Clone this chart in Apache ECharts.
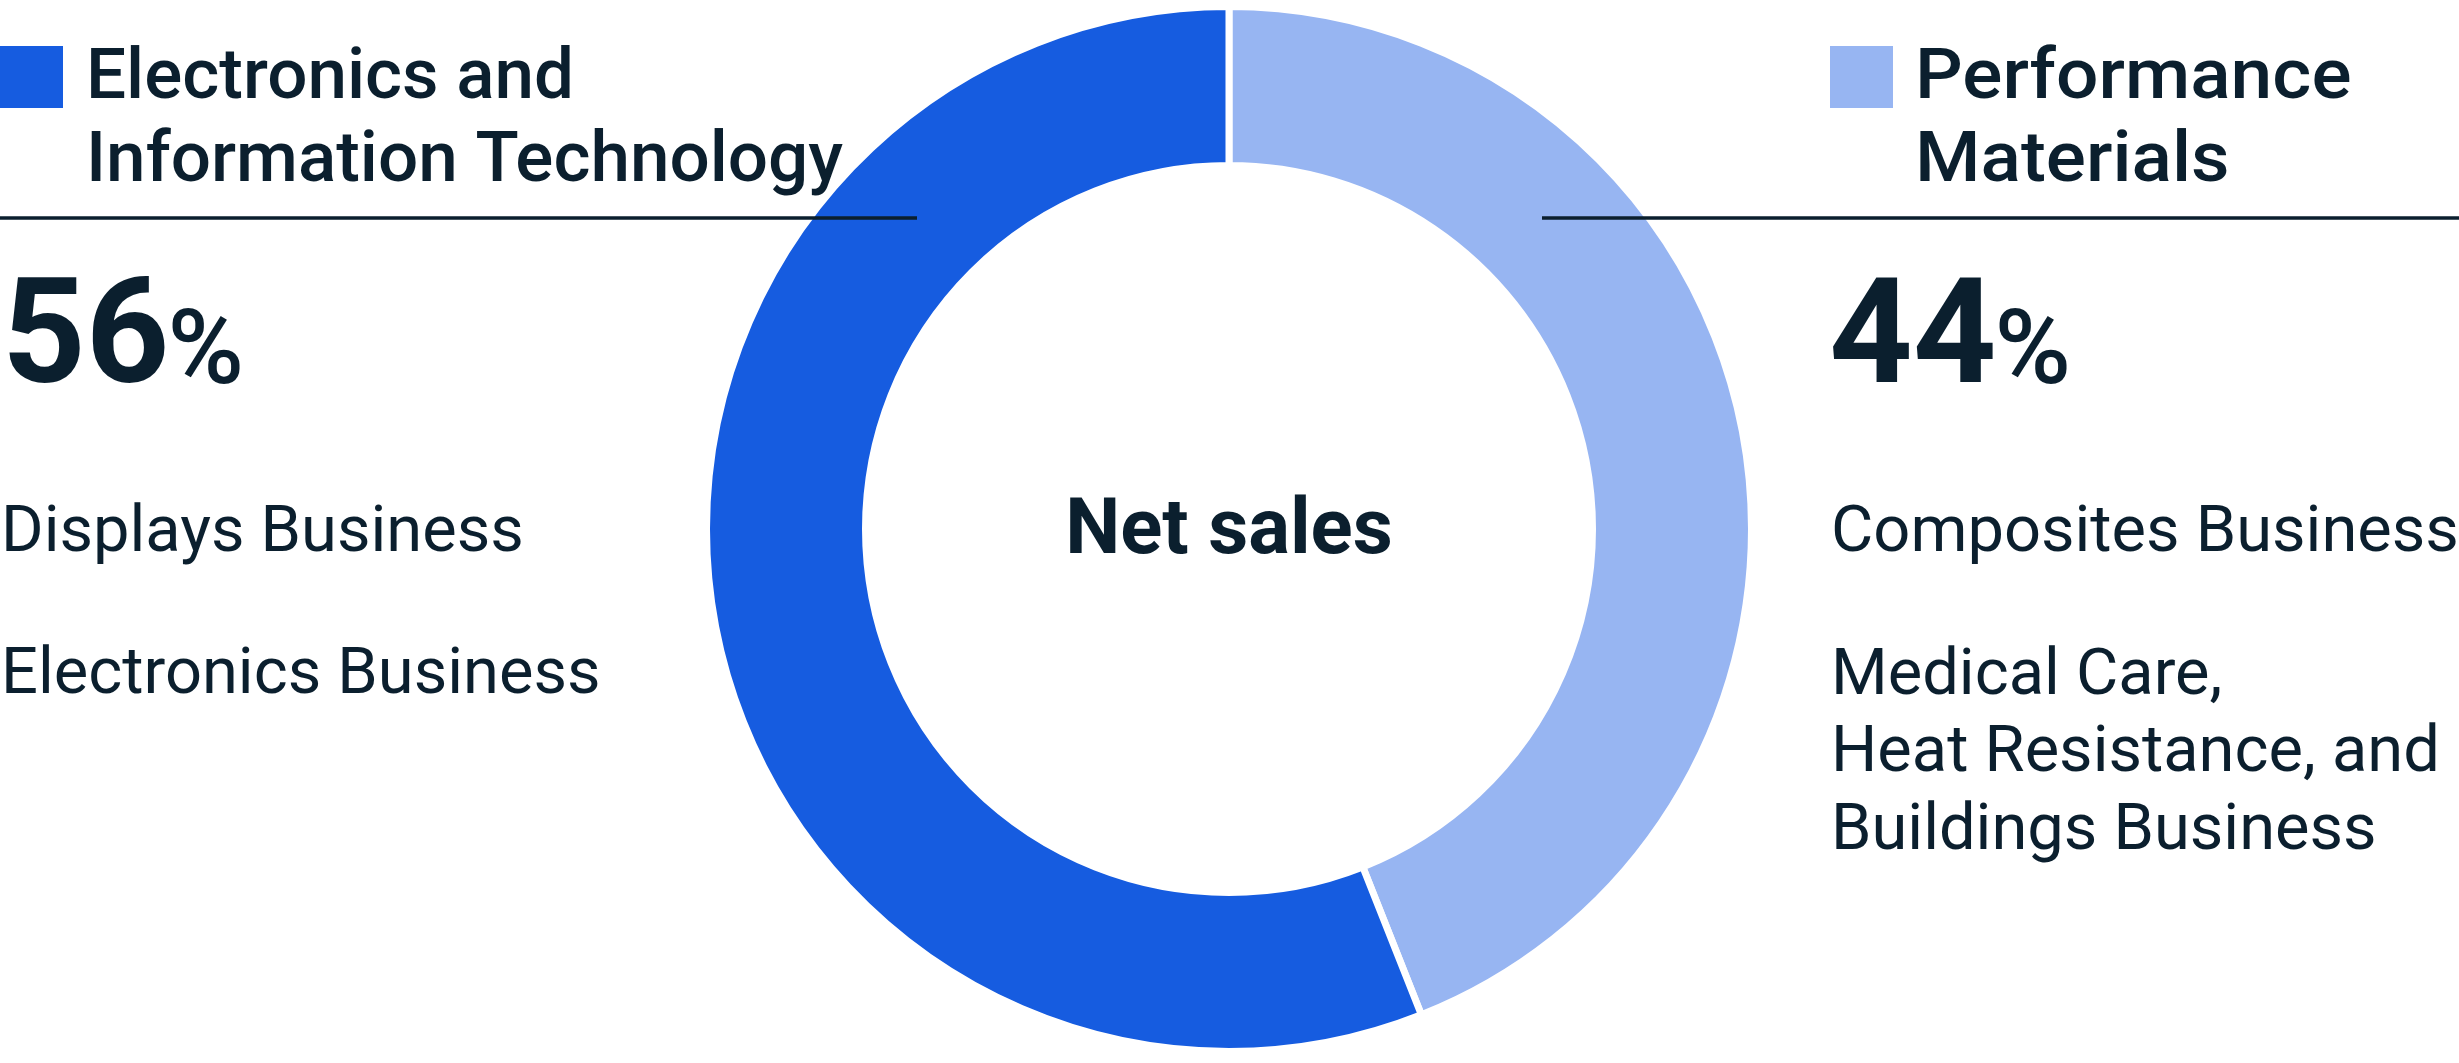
<!DOCTYPE html>
<html>
<head>
<meta charset="utf-8">
<script src="https://cdn.jsdelivr.net/npm/echarts@6/dist/echarts.min.js"></script>
<style>
html,body{margin:0;padding:0;background:#ffffff;}
#chart{width:2459px;height:1063px;}
</style>
</head>
<body>
<div id="chart"></div>
<script>
// ---- data ----
const segments = ['Performance Materials', 'Electronics and Information Technology'];
const shares = [44, 56];
const segColors = ['#97b5f2', '#165ce0'];
const leftTitle = ['Electronics and', 'Information Technology'];
const rightTitle = ['Performance', 'Materials'];
const leftBusinesses = ['Displays Business', 'Electronics Business'];
const rightBusinesses = ['Composites Business', 'Medical Care,\nHeat Resistance, and\nBuildings Business'];
const centerLabel = 'Net sales';

// ---- style ----
const INK = '#0b1f2e';
const FONT = 'Roboto';

function measure(str, size, weight) {
  const ctx = document.createElement('canvas').getContext('2d');
  ctx.font = weight + ' ' + size + 'px ' + FONT;
  return ctx.measureText(str).width;
}

function txt(text, x, y, size, weight, opts) {
  opts = opts || {};
  const el = {
    type: 'text', x: x, y: y + 0.08 * size, silent: true,
    style: {
      text: text, fill: INK, fontSize: size, fontWeight: weight, fontFamily: FONT,
      lineHeight: opts.lineHeight || size * 1.2,
      align: opts.align || 'left', textAlign: opts.align || 'left',
      verticalAlign: 'middle', textVerticalAlign: 'middle'
    }
  };
  if (opts.scaleX) el.scaleX = opts.scaleX;
  return el;
}

function pctGroup(value, x, yCenter) {
  const numSize = 146, pctSize = 104;
  const numStr = String(value);
  const w = measure(numStr, numSize, 700);
  return [
    txt(numStr, x, yCenter, numSize, 700),
    // percent sign: baseline aligned with number
    txt('%', x + w - 2, yCenter + (numSize - pctSize) * 0.355, pctSize, 500)
  ];
}

const leftIdx = 1, rightIdx = 0;
const graphics = [];
// legend squares
graphics.push({ type: 'rect', shape: { x: 0, y: 46, width: 63, height: 62 }, style: { fill: segColors[leftIdx] }, silent: true });
graphics.push({ type: 'rect', shape: { x: 1830, y: 46, width: 63, height: 62 }, style: { fill: segColors[rightIdx] }, silent: true });
// titles
graphics.push(txt(leftTitle.join('\n'), 86, 116.5, 71, 500, { lineHeight: 83 }));
graphics.push(txt(rightTitle.join('\n'), 1915, 116.5, 71, 500, { lineHeight: 83, scaleX: 1.055 }));
// separator lines
graphics.push({ type: 'line', shape: { x1: 0, y1: 218, x2: 917, y2: 218 }, style: { stroke: INK, lineWidth: 3.5 }, silent: true, z: 10 });
graphics.push({ type: 'line', shape: { x1: 1542, y1: 218, x2: 2459, y2: 218 }, style: { stroke: INK, lineWidth: 3.5 }, silent: true, z: 10 });
// percentages
pctGroup(shares[leftIdx], 2, 334).forEach(g => graphics.push(g));
pctGroup(shares[rightIdx], 1829, 334).forEach(g => graphics.push(g));
// business lists
graphics.push(txt(leftBusinesses[0], 1, 530, 65, 400));
graphics.push(txt(leftBusinesses[1], 1, 672, 65, 400));
graphics.push(txt(rightBusinesses[0], 1831, 530, 65, 400));
graphics.push(txt(rightBusinesses[1], 1831, 750, 65, 400, { lineHeight: 77.5 }));
// center label
graphics.push(txt(centerLabel, 1229, 527, 78, 700, { align: 'center' }));

const chart = echarts.init(document.getElementById('chart'), null, { renderer: 'canvas' });
chart.setOption({
  backgroundColor: '#ffffff',
  animation: false,
  color: segColors,
  series: [{
    type: 'pie',
    center: [1229, 529],
    radius: [363.5, 522.5],
    startAngle: 90,
    clockwise: true,
    silent: true,
    label: { show: false },
    labelLine: { show: false },
    itemStyle: { borderColor: '#ffffff', borderWidth: 7 },
    data: segments.map((name, i) => ({ name: name, value: shares[i], itemStyle: { color: segColors[i] } }))
  }],
  graphic: graphics
});
</script>
</body>
</html>
